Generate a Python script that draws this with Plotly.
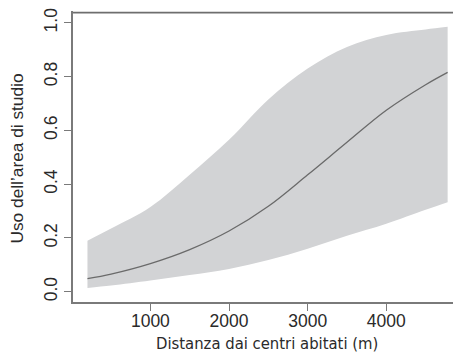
import plotly.graph_objects as go

distance = [200, 500, 1000, 1500, 2000, 2500, 3000, 3500, 4000, 4500, 4780]
mean_use = [0.049, 0.066, 0.105, 0.157, 0.226, 0.318, 0.435, 0.556, 0.675, 0.77, 0.816]
upper_ci = [0.19, 0.235, 0.315, 0.435, 0.565, 0.715, 0.83, 0.91, 0.955, 0.975, 0.985]
lower_ci = [0.014, 0.023, 0.042, 0.062, 0.085, 0.118, 0.16, 0.208, 0.253, 0.305, 0.333]

x_ticks = [1000, 2000, 3000, 4000]
y_ticks = [0.0, 0.2, 0.4, 0.6, 0.8, 1.0]
y_tick_labels = ["0.0", "0.2", "0.4", "0.6", "0.8", "1.0"]

band_color = "#d2d3d5"
line_color = "#6a6a6a"
axis_color = "#7a7a7a"
text_color = "#2a2a2a"
font_family = "Liberation Sans, Arial, sans-serif"
title_family = "Liberation Sans Narrow, Arial Narrow, DejaVu Sans Condensed, sans-serif"

x_range = [16, 4950]
y_range = [-0.038, 1.044]
box_top = 1.038

fig = go.Figure()
fig.add_trace(go.Scatter(x=distance, y=lower_ci, mode="lines",
                         line=dict(width=0, shape="spline", color=band_color),
                         hoverinfo="skip", showlegend=False))
fig.add_trace(go.Scatter(x=distance, y=upper_ci, mode="lines", fill="tonexty",
                         fillcolor=band_color,
                         line=dict(width=0, shape="spline", color=band_color),
                         hoverinfo="skip", showlegend=False))
fig.add_trace(go.Scatter(x=distance, y=mean_use, mode="lines",
                         line=dict(width=1.3, shape="spline", color=line_color),
                         showlegend=False))
# top border of the R-style plot box
fig.add_trace(go.Scatter(x=x_range, y=[box_top, box_top], mode="lines",
                         line=dict(width=1.8, color="#6e6e6e"),
                         hoverinfo="skip", showlegend=False))

fig.update_layout(
    width=453, height=347,
    margin=dict(l=65, r=0, t=0, b=53),
    paper_bgcolor="white", plot_bgcolor="white",
    font=dict(family=font_family, size=17.5, color=text_color),
)
fig.update_xaxes(
    range=x_range, tickvals=x_ticks, ticktext=[str(v) for v in x_ticks],
    showgrid=False, zeroline=False, showline=True, mirror=False,
    linecolor=axis_color, linewidth=1.5,
    ticks="outside", ticklen=7, tickwidth=1.2, tickcolor=axis_color,
    tickfont=dict(size=17.5, color=text_color), ticklabelstandoff=-5,
)
fig.update_yaxes(
    range=y_range, tickvals=y_ticks, ticktext=y_tick_labels,
    tickangle=-90, ticklabeloverflow="allow",
    showgrid=False, zeroline=False, showline=True, mirror=False,
    linecolor=axis_color, linewidth=1.5,
    ticks="outside", ticklen=7, tickwidth=1.2, tickcolor=axis_color,
    tickfont=dict(size=17.5, color=text_color), ticklabelstandoff=0,
)
fig.add_annotation(text="Uso dell\u2019area di studio", xref="paper", yref="paper",
                   x=0, y=0.5, xanchor="center", yanchor="middle", xshift=-57, yshift=-2,
                   textangle=-90, showarrow=False, font=dict(size=17.3, color=text_color))
fig.add_annotation(text="Distanza dai centri abitati (m)", xref="paper", yref="paper",
                   x=0.5, y=0, xanchor="center", yanchor="middle", yshift=-41,
                   showarrow=False, font=dict(family=title_family, size=16.5, color=text_color))

fig.write_html("out.html")
